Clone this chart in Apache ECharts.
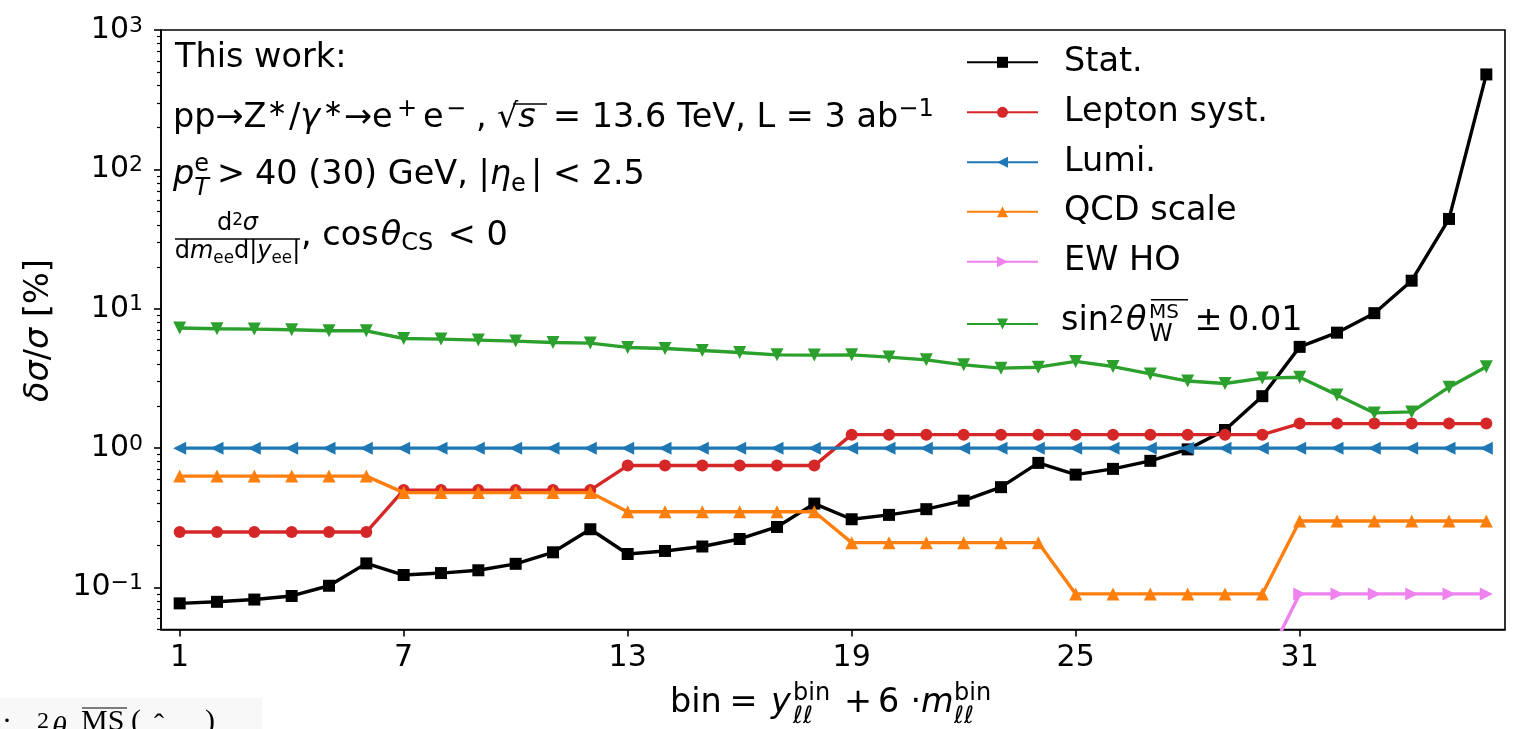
<!DOCTYPE html>
<html>
<head>
<meta charset="utf-8">
<script src="https://cdn.jsdelivr.net/npm/echarts@6/dist/echarts.min.js"></script>
<style>
  html, body { margin: 0; padding: 0; background: #ffffff; }
  #chart { width: 1517px; height: 729px; }
</style>
</head>
<body>
<div id="chart"></div>
<script>
// ---- data: relative uncertainty (%) per analysis bin ----
const bins = [1, 2, 3, 4, 5, 6, 7, 8, 9, 10, 11, 12, 13, 14, 15, 16, 17, 18,
              19, 20, 21, 22, 23, 24, 25, 26, 27, 28, 29, 30, 31, 32, 33, 34, 35, 36];
const statUnc = [0.077, 0.079, 0.082, 0.087, 0.103, 0.149, 0.123, 0.127, 0.133, 0.148, 0.179, 0.262,
                 0.174, 0.183, 0.197, 0.223, 0.272, 0.40, 0.309, 0.332, 0.365, 0.42, 0.525, 0.784,
                 0.646, 0.71, 0.811, 0.98, 1.35, 2.36, 5.33, 6.74, 9.30, 15.9, 44.1, 480];
const leptonSyst = [0.25, 0.25, 0.25, 0.25, 0.25, 0.25, 0.5, 0.5, 0.5, 0.5, 0.5, 0.5,
                    0.75, 0.75, 0.75, 0.75, 0.75, 0.75, 1.25, 1.25, 1.25, 1.25, 1.25, 1.25,
                    1.25, 1.25, 1.25, 1.25, 1.25, 1.25, 1.5, 1.5, 1.5, 1.5, 1.5, 1.5];
const lumiUnc = [1, 1, 1, 1, 1, 1, 1, 1, 1, 1, 1, 1, 1, 1, 1, 1, 1, 1,
                 1, 1, 1, 1, 1, 1, 1, 1, 1, 1, 1, 1, 1, 1, 1, 1, 1, 1];
const qcdScale = [0.63, 0.63, 0.63, 0.63, 0.63, 0.63, 0.48, 0.48, 0.48, 0.48, 0.48, 0.48,
                  0.35, 0.35, 0.35, 0.35, 0.35, 0.35, 0.21, 0.21, 0.21, 0.21, 0.21, 0.21,
                  0.09, 0.09, 0.09, 0.09, 0.09, 0.09, 0.30, 0.30, 0.30, 0.30, 0.30, 0.30];
const ewHO = [null, null, null, null, null, null, null, null, null, null, null, null,
              null, null, null, null, null, null, null, null, null, null, null, null,
              null, null, null, null, null, 0.026, 0.09, 0.09, 0.09, 0.09, 0.09, 0.09];
const sin2ThetaW = [7.27, 7.18, 7.15, 7.07, 6.95, 6.95, 6.12, 6.06, 5.96, 5.86, 5.73, 5.67,
                    5.28, 5.19, 5.02, 4.86, 4.67, 4.65, 4.67, 4.50, 4.30, 3.96, 3.75, 3.81,
                    4.19, 3.85, 3.41, 3.03, 2.91, 3.18, 3.23, 2.41, 1.79, 1.82, 2.74, 3.83];

const seriesNames = ['Stat.', 'Lepton syst.', 'Lumi.', 'QCD scale', 'EW HO', 'sin2thetaW_MSbar_pm_0.01'];
const xTickValues = [1, 7, 13, 19, 25, 31];
const yTickValues = [0.1, 1, 10, 100, 1000];
const yMinorTickValues = [0.05, 0.06, 0.07, 0.08, 0.09,
                          0.2, 0.3, 0.4, 0.5, 0.6, 0.7, 0.8, 0.9,
                          2, 3, 4, 5, 6, 7, 8, 9,
                          20, 30, 40, 50, 60, 70, 80, 90,
                          200, 300, 400, 500, 600, 700, 800, 900];

// ---- text layout helpers (mathtext-like runs) ----
const FAMILY = '"DejaVu Sans"';
const S = 33.5, SS = 24, SSS = 16.8;
const ctx2d = document.createElement('canvas').getContext('2d');
function fontOf(size, italic, family) {
  return (italic ? 'italic ' : 'normal ') + size + 'px ' + (family || FAMILY);
}
function widthOf(t, size, italic, family) {
  ctx2d.font = fontOf(size, italic, family);
  return ctx2d.measureText(t).width;
}
const MID = 0.346; // canvas "middle" baseline sits this many em above the alphabetic one
function glyphRun(x, base, p, family) {
  return {
    type: 'text', silent: true, z: 100, x: x, y: base - MID * p.s,
    style: {
      text: p.t, font: fontOf(p.s, p.i, family), fill: '#000',
      align: 'left', verticalAlign: 'middle', textAlign: 'left', textVerticalAlign: 'middle'
    }
  };
}
// a row of runs; "at" places a run absolutely, "stack" puts sup/sub at one x
function mathRow(x, base, runs, family) {
  const els = [];
  let cx = x;
  runs.forEach(function (r) {
    if (r.gap) { cx += r.gap; return; }
    if (r.at !== undefined) cx = r.at;
    const parts = r.stack || [r];
    let adv = 0;
    parts.forEach(function (p) {
      els.push(glyphRun(cx, base + (p.dy || 0), p, family));
      adv = Math.max(adv, widthOf(p.t, p.s, p.i, family));
    });
    cx += adv;
  });
  return { els: els, start: x, end: cx, width: cx - x };
}
function hLine(x1, x2, y, w) {
  return { type: 'line', silent: true, z: 100,
    shape: { x1: x1, y1: y, x2: x2, y2: y }, style: { stroke: '#000', lineWidth: w || 1.5 } };
}

const graphics = [];
function addRow(row) { row.els.forEach(function (e) { graphics.push(e); }); return row; }

// info block, upper left
addRow(mathRow(175, 70, [{ t: 'This work:', s: S }]));
addRow(mathRow(173, 130, [
  { t: 'pp→Z', s: S }, { at: 267, t: '∗', s: SS, dy: -11.5 },
  { at: 289, t: '/', s: S }, { t: 'γ', s: S, i: true }, { at: 323, t: '∗', s: SS, dy: -11.5 },
  { at: 344, t: '→e', s: S }, { at: 397, t: '+', s: SS, dy: -11.5 },
  { at: 423, t: 'e', s: S }, { at: 446, t: '−', s: SS, dy: -11.5 },
  { at: 476, t: ',', s: S },
  { at: 497, t: '√', s: S }, { t: 's', s: S, i: true },
  { at: 553, t: '= 13.6 TeV, L = 3 ab', s: S }, { t: '−1', s: SS, dy: -11.5 }
]));
graphics.push(hLine(513, 547, 104, 1.6));
addRow(mathRow(173, 186.7, [
  { t: 'p', s: S, i: true },
  { stack: [{ t: 'e', s: SS, dy: -13.7 }, { t: 'T', s: SS, i: true, dy: 10 }] },
  { at: 217, t: '>', s: S },
  { at: 255, t: '40 (30) GeV, |', s: S }, { t: 'η', s: S, i: true }, { t: 'e', s: SS, dy: 6 },
  { at: 531, t: '| < 2.5', s: S }
]));
// fraction d2sigma / (dm dy)
(function () {
  const numRuns = [{ t: 'd', s: SS }, { t: '2', s: SSS, dy: -5 }, { t: 'σ', s: SS, i: true }];
  const denRuns = [{ t: 'd', s: SS }, { t: 'm', s: SS, i: true }, { t: 'ee', s: SSS, dy: 4 },
                   { t: 'd|', s: SS }, { t: 'y', s: SS, i: true }, { t: 'ee', s: SSS, dy: 4 }, { t: '|', s: SS }];
  const cxBar = 237.5;
  const nw = mathRow(0, 0, numRuns).width, dw = mathRow(0, 0, denRuns).width;
  addRow(mathRow(cxBar - nw / 2, 231.7, numRuns));
  addRow(mathRow(cxBar - dw / 2, 260, denRuns));
  graphics.push(hLine(175, 300, 239, 1.6));
})();
addRow(mathRow(301, 248.3, [
  { t: ', cos', s: S }, { gap: 2 }, { t: 'θ', s: S, i: true }, { t: 'CS', s: SS, dy: 3.5 },
  { gap: 4 }, { t: ' < 0', s: S }
]));

// x-axis title
addRow(mathRow(670, 715, [
  { t: 'bin', s: S }, { at: 729.5, t: '=', s: S },
  { at: 771, t: 'y', s: S, i: true },
  { at: 793, stack: [{ t: 'bin', s: SS, dy: -13 }, { t: 'ℓℓ', s: SS, i: true, dy: 10 }] },
  { at: 844, t: '+', s: S }, { at: 878, t: '6', s: S }, { at: 910.5, t: '·', s: S },
  { at: 921, t: 'm', s: S, i: true },
  { at: 954, stack: [{ t: 'bin', s: SS, dy: -13 }, { t: 'ℓℓ', s: SS, i: true, dy: 10 }] }
]));

// y-axis title (rotated)
(function () {
  const runs = [{ t: 'δσ', s: S, i: true }, { t: '/', s: S }, { t: 'σ', s: S, i: true }, { t: ' [%]', s: S }];
  const w = mathRow(0, 0, runs).width;
  const row = mathRow(-w / 2, 0, runs);
  graphics.push({ type: 'group', x: 50.5, y: 330.5, rotation: Math.PI / 2, children: row.els });
})();

// label of the last legend entry
addRow(mathRow(1061, 333.3, [
  { t: 'sin', s: S }, { t: '2', s: SS, dy: -8.5 },
  { at: 1126, t: 'θ', s: S, i: true },
  { at: 1149, stack: [{ t: 'MS', s: 20, dy: -13.3 }, { t: 'W', s: SS, dy: 10 }] },
  { at: 1194.5, t: '±', s: S }, { at: 1228, t: '0.01', s: S }
]));
graphics.push(hLine(1151, 1188, 299.8, 1.5));

// fragment of neighbouring page text along the bottom edge
graphics.push({ type: 'rect', silent: true, z: 1, shape: { x: 0, y: 698, width: 262, height: 31 },
  style: { fill: '#f8f8f8' } });
(function () {
  const serif = '"Liberation Serif"';
  const parts = [
    { at: 2, t: '·', s: 30 }, { at: 37, t: '2', s: 24, dy: -3 }, { at: 52, t: 'θ', s: 30, i: true, dy: 6 },
    { at: 81, t: 'MS', s: 30 }, { at: 131, t: '(', s: 30 }, { at: 154, t: 'ˆ', s: 30, dy: 4 },
    { at: 205, t: ')', s: 30 }
  ];
  addRow(mathRow(0, 733, parts, serif));
  graphics.push(hLine(82, 127, 708, 1.2));
})();

// ---- series ----
const colors = ['#000000', '#d62728', '#1f77b4', '#ff7f0e', '#ee82ee', '#2ca02c'];
const valueSets = [statUnc, leptonSyst, lumiUnc, qcdScale, ewHO, sin2ThetaW];
const symbols = ['rect', 'circle', 'triangle', 'triangle', 'triangle', 'triangle'];
const symbolRotations = [0, 0, 90, 0, -90, 180];
const symbolSizes = [12, 12, 13, 13, 13, 13];

const series = seriesNames.map(function (name, k) {
  return {
    type: 'line', name: name,
    data: bins.map(function (b, i) { return [b, valueSets[k][i]]; }),
    symbol: symbols[k], symbolSize: symbolSizes[k], symbolRotate: symbolRotations[k],
    showAllSymbol: true, clip: true, connectNulls: false,
    lineStyle: { color: colors[k], width: 3.4 },
    itemStyle: { color: colors[k], borderWidth: 0 },
    emphasis: { disabled: true },
    z: 2 + k
  };
});

// one legend block per row so each row sits at its own height
const legendRowCenters = [62.3, 112.3, 162.3, 211.7, 261.7, 324];
const legends = seriesNames.map(function (name, k) {
  return {
    data: [name], orient: 'vertical', left: 966, top: legendRowCenters[k] - 20,
    padding: 0, itemGap: 0, itemWidth: 71, itemHeight: 13.75, selectedMode: false,
    formatter: k === 5 ? function () { return ' '; } : undefined,
    textStyle: { fontSize: 33.5, fontFamily: 'DejaVu Sans', color: '#000', lineHeight: 40, padding: [0, 0, 0, 21] }
  };
});

const chart = echarts.init(document.getElementById('chart'), null, { renderer: 'canvas' });
chart.setOption({
  animation: false,
  backgroundColor: '#ffffff',
  grid: { left: 161, right: 12, top: 30, bottom: 99.5, show: true, borderColor: '#000', borderWidth: 1.6 },
  legend: legends,
  xAxis: {
    type: 'value', min: 0.5, max: 36.5,
    axisLine: { show: true, lineStyle: { color: '#000', width: 1.6 } },
    axisTick: { show: true, length: 7, customValues: xTickValues, lineStyle: { color: '#000', width: 1.6 } },
    axisLabel: { customValues: xTickValues, fontSize: 30, fontFamily: 'DejaVu Sans', color: '#000', margin: 14 },
    splitLine: { show: false }
  },
  yAxis: [
    {
      type: 'log', logBase: 10, min: 0.05, max: 1000,
      axisLine: { show: true, lineStyle: { color: '#000', width: 1.6 } },
      axisTick: { show: true, length: 7, customValues: yTickValues, lineStyle: { color: '#000', width: 1.6 } },
      axisLabel: {
        customValues: yTickValues, margin: 18, color: '#000',
        formatter: function (v) {
          const k = Math.round(Math.log10(v));
          return '{b|10}{e|' + (k < 0 ? '−' + (-k) : String(k)) + '}';
        },
        rich: {
          b: { fontSize: 30, fontFamily: 'DejaVu Sans', color: '#000', lineHeight: 30 },
          e: { fontSize: 22, fontFamily: 'DejaVu Sans', color: '#000', lineHeight: 17, verticalAlign: 'top' }
        }
      },
      splitLine: { show: false }
    },
    {
      type: 'log', logBase: 10, min: 0.05, max: 1000, position: 'left',
      axisLine: { show: false },
      axisTick: { show: true, length: 4, customValues: yMinorTickValues, lineStyle: { color: '#000', width: 1.2 } },
      axisLabel: { show: false },
      splitLine: { show: false }
    }
  ],
  series: series,
  graphic: { elements: graphics }
});
</script>
</body>
</html>
